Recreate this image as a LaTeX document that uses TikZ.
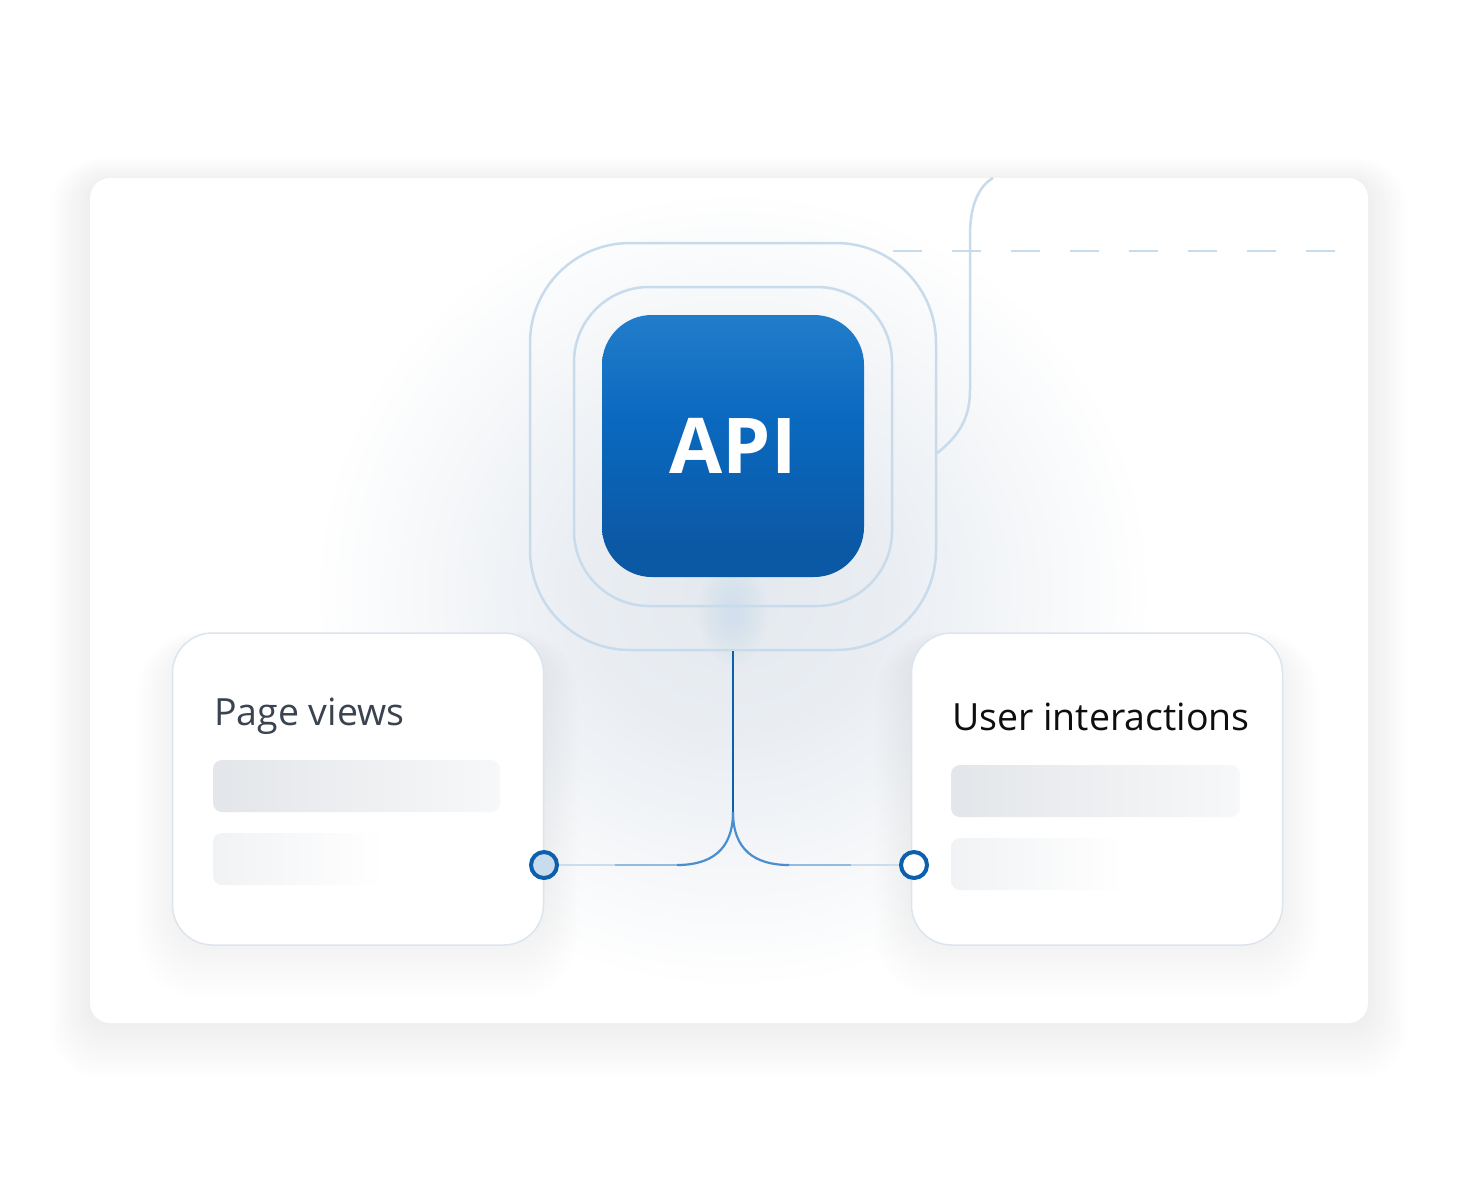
\documentclass[tikz,border=0pt]{standalone}
\usepackage{fontspec}
\setmainfont{Open Sans}
\definecolor{lineblue}{HTML}{C8DBEC}
\definecolor{darkblue}{HTML}{0B5FAD}
\definecolor{curveblue}{HTML}{4A8ED0}
\definecolor{midblue}{HTML}{93BADF}
\definecolor{paleblue}{HTML}{CADCEE}
\definecolor{apitop}{HTML}{2E86D0}
\definecolor{apimid}{HTML}{0A69BF}
\definecolor{apibot}{HTML}{0B58A4}
\definecolor{cardborder}{HTML}{DCE5EE}
\definecolor{shadowc}{HTML}{6A7A8E}
\definecolor{glowc}{HTML}{E4E9EF}
\definecolor{barA}{HTML}{E1E4E8}
\definecolor{barB}{HTML}{ECEEF1}
\definecolor{txtgray}{HTML}{3A4350}
\definecolor{txtdark}{HTML}{0E0E10}
\definecolor{dotfill}{HTML}{C8DCEE}
\pgfdeclareradialshading{glowfill}{\pgfpointorigin}{color(0bp)=(glowc); color(9bp)=(glowc!80!white); color(18bp)=(glowc!35!white); color(25bp)=(white); color(50bp)=(white)}
\pgfdeclarehorizontalshading{barshA}{100bp}{color(0bp)=(barA); color(20bp)=(barA); color(95bp)=(white); color(100bp)=(white)}
\pgfdeclarehorizontalshading{barshB}{100bp}{color(0bp)=(barB); color(15bp)=(barB); color(55bp)=(white); color(100bp)=(white)}
\pgfdeclareverticalshading{apish}{100bp}{color(0bp)=(apibot); color(30bp)=(apibot); color(55bp)=(apimid); color(85bp)=(apitop); color(100bp)=(apitop)}
\begin{document}
\begin{tikzpicture}[x=1pt,y=-1pt,
  panelbox/.style={rectangle, rounded corners=20pt, fill=white, minimum width=1278pt, minimum height=845pt, inner sep=0pt},
  ring/.style={rectangle, draw=lineblue, line width=2.5pt, inner sep=0pt},
  card/.style={rectangle, rounded corners=40pt, fill=white, draw=cardborder, line width=1.5pt, minimum width=371pt, minimum height=312pt, inner sep=0pt},
  cardtitle/.style={anchor=base west, inner sep=0pt, font=\fontsize{37.5}{40}\selectfont},
  barbox/.style={rounded corners=9pt},
  dot/.style={circle, draw=darkblue, line width=4pt, minimum size=26pt, inner sep=0pt},
  lightline/.style={draw=lineblue, line width=2.5pt},
  dashline/.style={draw=lineblue, line width=2.5pt, dash pattern=on 29pt off 30pt},
  apibox/.style={rectangle, rounded corners=50pt, minimum width=262pt, minimum height=262pt, inner sep=0pt, shading=apish, text=white, font=\bfseries\fontsize{77}{77}\selectfont},
]
\useasboundingbox (0,0) rectangle (1459,1200);
\fill[white] (0,0) rectangle (1459,1200);
% panel shadow
\foreach \i in {1,...,16} {
  \fill[shadowc, opacity=0.0055, rounded corners=20+2*\i] (90-2.5*\i, 178-1.5*\i+4) rectangle (1368+2.5*\i, 1023+3.5*\i);
}
\node[panelbox] (panel) at (729,600.5) {};
% interior glows
\begin{scope}
  \clip[rounded corners=20pt] (90,178) rectangle (1368,1023);
  \shade[shading=glowfill] (733,590) ellipse (420 and 400);
  \foreach \i in {1,...,12} {
    \fill[shadowc, opacity=0.005, rounded corners=40+2*\i] (173-3*\i, 633-1*\i+10) rectangle (543+3*\i, 945+4.5*\i);
    \fill[shadowc, opacity=0.005, rounded corners=40+2*\i] (911-3*\i, 633-1*\i+10) rectangle (1283+3*\i, 945+4.5*\i);
  }
  \foreach \i in {1,...,10} {
    \fill[lineblue, opacity=0.07] (733,612) ellipse ({4+3*\i} and {8+4.5*\i});
  }
\end{scope}
% rings
\node[ring, rounded corners=100pt, minimum width=406pt, minimum height=407pt] (outer) at (733,446.5) {};
\node[ring, rounded corners=75pt, minimum width=318pt, minimum height=319pt] (inner) at (733,446.5) {};
% top branch and dashed line
\coordinate (topend) at (993,178);
\coordinate (dashstart) at (893,251);
\coordinate (dashend) at (1338,251);
\draw[lightline] ([yshift=-6.5pt]outer.east) .. controls +(20,-16) and +(0,30) .. (970,390) -- (970,235) .. controls +(0,-30) and +(-14,8) .. (topend);
\draw[dashline] (dashstart) -- (dashend);
% cards
\node[card] (pv) at (358,789) {};
\node[card] (ui) at (1097,789) {};
\node[cardtitle, text=txtgray] (pvt) at (214,725) {Page views};
\node[cardtitle, text=txtdark] (uit) at (952,730) {User interactions};
\shade[barbox, shading=barshA] (213,760) rectangle (500,812);
\shade[barbox, shading=barshB] (213,833) rectangle (500,885);
\shade[barbox, shading=barshA] (951,765) rectangle (1240,817);
\shade[barbox, shading=barshB] (951,838) rectangle (1240,890);
% API box
\node[apibox] (api) at (733,446) {API};
% connectors
\node[dot, fill=dotfill] (cl) at (544,865) {};
\node[dot, fill=white] (cr) at (914,865) {};
\coordinate (junc) at (733,812);
\coordinate (lturn) at (677,865);
\coordinate (rturn) at (789,865);
\coordinate (lmid) at (615,865);
\coordinate (rmid) at (851,865);
\draw[paleblue, line width=2pt] (lmid) -- (cl.east);
\draw[paleblue, line width=2pt] (rmid) -- (cr.west);
\draw[midblue, line width=2pt] (lturn) -- (lmid);
\draw[midblue, line width=2pt] (rturn) -- (rmid);
\draw[curveblue, line width=2.2pt] (junc) .. controls +(0,38) and +(34,0) .. (lturn);
\draw[curveblue, line width=2.2pt] (junc) .. controls +(0,38) and +(-34,0) .. (rturn);
\draw[darkblue, line width=2.5pt] (outer.south) -- (junc);
\end{tikzpicture}
\end{document}
